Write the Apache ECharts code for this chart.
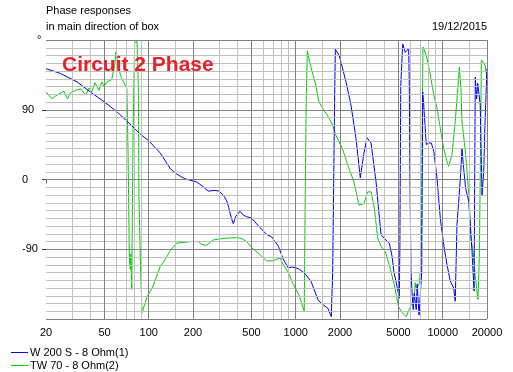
<!DOCTYPE html>
<html>
<head>
<meta charset="utf-8">
<script src="https://cdn.jsdelivr.net/npm/echarts@6/dist/echarts.min.js"></script>
<style>
html,body{margin:0;padding:0;background:#fff;}
#chart{width:513px;height:372px;}
</style>
</head>
<body>
<div id="chart"></div>
<script>
// ---- data (frequency in Hz, phase in degrees) ----
var seriesNames = ['W 200 S - 8 Ohm(1)', 'TW 70 - 8 Ohm(2)'];

var blueFreq = [20,25,32.5,40,50,61,71.5,87,100,120,140,155,176,200,211,230,254,282,300,321,338,350,365,376,390,417,440,463,501,571,634,686,761,823,890,938,1004,1060,1117,1174,1274,1414,1495,1652,1745,1764,1783,1811,1840,1859,1976,2198,2376,2570,2749,2899,3054,3251,3516,3802,4000,4327,4520,4644,4885,5064,5110,5180,5340,5560,5700,5863,5920,5990,6080,6200,6300,6400,6600,6700,6900,7050,7190,7305,7400,7500,7730,8000,8358,8700,9140,9625,10150,10690,11250,11870,12160,12500,13180,13520,13800,14300,15020,15820,16330,16650,17000,17300,17990,18500,19000,19400,20000];
var blueDeg  = [143,137,126,113,100,87,75,59,50,34,14,7,1,-2,-3,-8,-15,-14,-15,-20,-27,-36,-50,-57,-48,-41,-46,-48,-50,-62,-71,-74,-86,-103,-114,-113,-114,-116,-119,-123,-132,-155,-160,-166,-177,-179,-120,-5,110,168,160,126,96,53,2,32,54,47,-3,-71,-76,-82,-99,-118,-138,-153,-87,121,175,164,162,169,126,-7,-118,-150,-168,-147,-168,-135,-175,-174,-120,113,100,83,45,47,47,36,2,-50,-84,-110,-131,-140,-157,-58,2,40,19,-11,-28,-93,-144,132,104,124,96,-20,10,75,143];

var greenFreq = [20,22,23.3,26.5,28,29.4,31.8,34.4,37.2,39.2,41,43,45.8,48,49.6,52,56,58.6,59.8,60.8,62,65,71,72.3,73.8,75,75.5,76.6,78.2,80.2,83.2,85,85.8,87.9,90,97.5,105,110.6,119.8,129.6,139.6,155,176,196,217,230,247,275,321,396,428,463,501,571,634,704,780,823,890,961,1057,1142,1162,1180,1199,1261,1368,1438,1547,1667,1783,1877,2074,2294,2487,2692,2910,3085,3253,3425,3614,3802,4064,4327,4677,5000,5300,5655,5900,6190,6400,6500,6600,6900,7000,7100,7200,7250,7335,7740,8150,8690,9140,9625,10150,10690,10980,11560,12160,12700,12960,13300,13500,14320,15070,15550,16250,16680,17360,17730,18010,18300,19050,19460,20000];
var greenDeg  = [113,104,108,114,104,112,115,117,109,118,113,125,115,126,120,126,129,147,165,165,145,132,117,36,-101,-116,-96,-142,60,177,178,120,-24,-114,-172,-151,-141,-130,-112,-103,-92,-82,-81,-80,-80,-84,-85,-78,-76,-75,-76,-80,-88,-97,-105,-105,-101,-110,-120,-135,-150,-170,-3,109,166,147,122,100,90,81,70,57,40,15,-3,-33,-31,-16,-16,-37,-76,-86,-93,-110,-136,-164,-172,-177,-168,-159,-151,-133,-142,-135,-125,-112,-45,66,171,160,139,109,92,66,40,23,17,32,75,120,145,117,76,32,-20,-76,-101,-127,-155,-101,10,154,150,147,130];

// axis ticks / grid
var majorFreqs = [20,50,100,200,500,1000,2000,5000,10000,20000];
var minorFreqs = [30,40,60,70,80,90,150,300,400,600,700,800,900,1500,3000,4000,6000,7000,8000,9000,15000];
var yLabelValues = [-90, 0, 90];
var yMajor = [-180, -90, 0, 90, 180];
var yMinor = [-170,-160,-150,-140,-130,-120,-110,-100,-80,-70,-60,-50,-40,-30,-20,-10,10,20,30,40,50,60,70,80,100,110,120,130,140,150,160,170];

function lg(f){ return Math.log10(f); }
function pairs(fs, ds){ return fs.map(function(f,i){ return [lg(f), ds[i]]; }); }

var LIGHT = '#c0c0c0', DARK = '#808080';
var gridLines = [];
yMinor.forEach(function(v){ gridLines.push({yAxis: v, lineStyle:{color:LIGHT, width:1, type:'solid'}}); });
minorFreqs.forEach(function(f){ gridLines.push({xAxis: lg(f), lineStyle:{color:LIGHT, width:1, type:'solid'}}); });
yMajor.forEach(function(v){ gridLines.push({yAxis: v, lineStyle:{color:DARK, width:1, type:'solid'}}); });
majorFreqs.forEach(function(f){ gridLines.push({xAxis: lg(f), lineStyle:{color:DARK, width:1, type:'solid'}}); });

var FONT = '"Liberation Sans", Arial, sans-serif';
var chart = echarts.init(document.getElementById('chart'), null, {renderer:'canvas'});

var legendText = {color: '#000', fontSize: 11, fontFamily: FONT, padding: [0,0,0,-3]};

chart.setOption({
  animation: false,
  backgroundColor: '#ffffff',
  grid: {left: 46, top: 40, width: 441, height: 279, containLabel: false},
  xAxis: {
    type: 'value',
    min: lg(20), max: lg(20000),
    axisLine: {show: false},
    splitLine: {show: false},
    axisTick: {show: true, customValues: majorFreqs.map(lg), length: 4, lineStyle: {color: '#606060'}},
    axisLabel: {
      show: true, customValues: majorFreqs.map(lg), margin: 8,
      color: '#000', fontSize: 11, fontFamily: FONT,
      formatter: function(v){ return String(Math.round(Math.pow(10, v))); }
    }
  },
  yAxis: {
    type: 'value',
    min: -180, max: 180, interval: 10,
    axisLine: {show: false},
    splitLine: {show: false},
    axisTick: {show: true, customValues: yLabelValues, length: 4, lineStyle: {color: '#404040'}},
    axisLabel: {
      show: true, customValues: yLabelValues, align: 'left', margin: 24,
      color: '#000', fontSize: 11, fontFamily: FONT
    }
  },
  legend: [
    {show: true, left: 6, top: 342, itemWidth: 17, itemHeight: 1, icon: 'rect', textStyle: legendText, data: [seriesNames[0]]},
    {show: true, left: 6, top: 355, itemWidth: 17, itemHeight: 1, icon: 'rect', textStyle: legendText, data: [seriesNames[1]]}
  ],
  graphic: [
    {type:'text', left: 46, top: 5, style:{text:'Phase responses', fill:'#000', font:'11px ' + FONT}},
    {type:'text', left: 46, top: 21, style:{text:'in main direction of box', fill:'#000', font:'11px ' + FONT}},
    {type:'text', right: 26, top: 21, style:{text:'19/12/2015', fill:'#000', font:'11px ' + FONT}},
    {type:'text', left: 37, top: 34, style:{text:'°', fill:'#000', font:'11px ' + FONT}},
    {type:'text', left: 62, top: 55, z: 100, style:{text:'Circuit 2 Phase', fill:'#e8222a', font:'bold 21px ' + FONT}}
  ],
  series: [
    {
      type: 'line', name: '_grid', z: 1, silent: true, showSymbol: false,
      data: [[lg(20), 0]], lineStyle: {opacity: 0},
      markLine: {silent: true, symbol: ['none','none'], label: {show: false}, emphasis: {disabled: true}, animation: false, data: gridLines}
    },
    {
      type: 'line', name: seriesNames[0], z: 3, showSymbol: false, symbol: 'none',
      color: '#0000ff', lineStyle: {color: '#0000ff', width: 1},
      data: pairs(blueFreq, blueDeg)
    },
    {
      type: 'line', name: seriesNames[1], z: 2, showSymbol: false, symbol: 'none',
      color: '#00d000', lineStyle: {color: '#00d000', width: 1},
      data: pairs(greenFreq, greenDeg)
    }
  ]
});
</script>
</body>
</html>
